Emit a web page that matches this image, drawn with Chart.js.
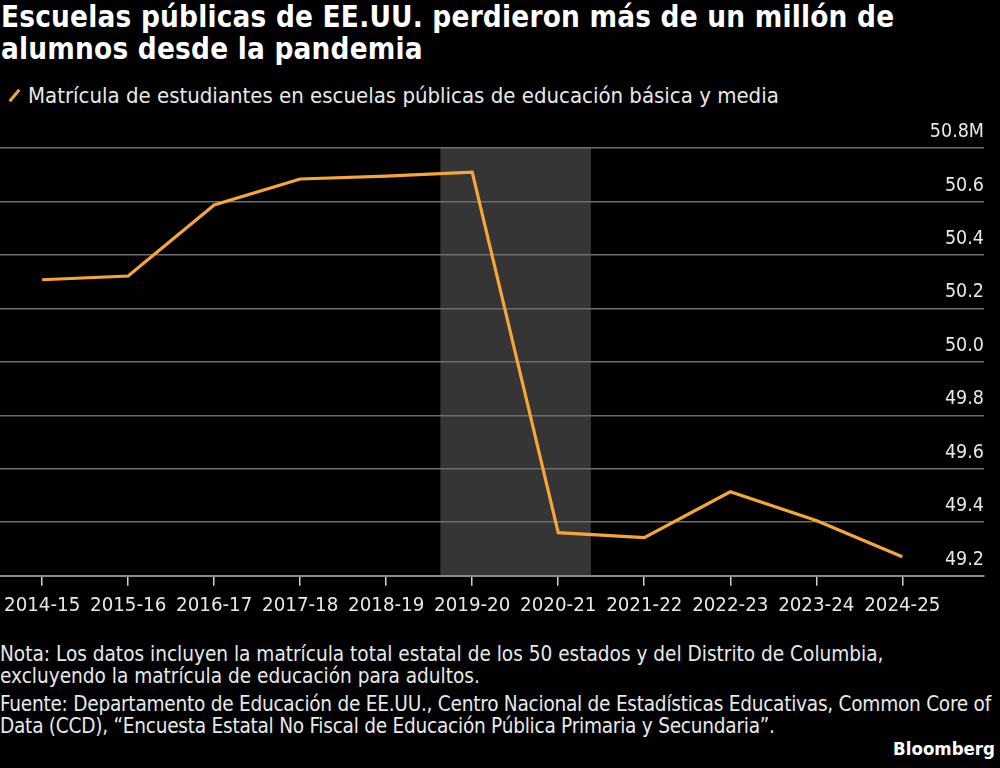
<!DOCTYPE html>
<html>
<head>
<meta charset="utf-8">
<script src="https://cdn.jsdelivr.net/npm/chart.js@4.4.1/dist/chart.umd.min.js"></script>
<style>
  html, body { margin: 0; padding: 0; background: #000; }
  body { width: 1000px; height: 768px; position: relative; overflow: hidden; font-family: "DejaVu Sans Condensed", "DejaVu Sans", sans-serif; color: #fff; }
  #title { position: absolute; left: 1px; top: 1px; width: 1000px; font-weight: bold; font-size: 29.4px; letter-spacing: 0.2px; line-height: 32px; color: #fff; white-space: nowrap; }
  #legend { position: absolute; left: 0; top: 82px; font-size: 22px; line-height: 28px; color: #e8e8e8; white-space: nowrap; }
  #legend .sw { display: inline-block; width: 3px; height: 15px; background: #f6a637; transform: rotate(40deg); margin: 0 12px 0 13px; vertical-align: 0px; }
  #wrap { position: absolute; left: 0; top: 110px; width: 1000px; height: 516px; }
  #notes { position: absolute; left: 0; top: 643px; width: 1000px; font-size: 20.6px; line-height: 22px; color: #e8e8e8; white-space: nowrap; }
  #notes p { margin: 0 0 6px 0; }
  #notes p.src { letter-spacing: -0.25px; }
  #brand { position: absolute; right: 5px; top: 738px; font-weight: bold; font-size: 18.5px; color: #fff; }
</style>
</head>
<body>
<div id="title">Escuelas públicas de EE.UU. perdieron más de un millón de<br>alumnos desde la pandemia</div>
<div id="legend"><span class="sw"></span>Matrícula de estudiantes en escuelas públicas de educación básica y media</div>
<div id="wrap"><canvas id="c" width="1000" height="516"></canvas></div>
<div id="notes">
<p>Nota: Los datos incluyen la matrícula total estatal de los 50 estados y del Distrito de Columbia,<br>excluyendo la matrícula de educación para adultos.</p>
<p class="src">Fuente: Departamento de Educación de EE.UU., Centro Nacional de Estadísticas Educativas, Common Core of<br>Data (CCD), “Encuesta Estatal No Fiscal de Educación Pública Primaria y Secundaria”.</p>
</div>
<div id="brand">Bloomberg</div>
<script>
const categories = ["2014-15","2015-16","2016-17","2017-18","2018-19","2019-20","2020-21","2021-22","2022-23","2023-24","2024-25"];
const enrollment = [50.307, 50.321, 50.587, 50.684, 50.695, 50.710, 49.361, 49.342, 49.514, 49.406, 49.271];
const yTicks = [49.2, 49.4, 49.6, 49.8, 50.0, 50.2, 50.4, 50.6, 50.8];
const shadeRange = [4.63, 6.38];

const shadePlugin = {
  id: 'shade',
  beforeDraw(chart) {
    const {ctx, chartArea, scales} = chart;
    const x0 = scales.x.getPixelForValue(shadeRange[0]);
    const x1 = scales.x.getPixelForValue(shadeRange[1]);
    ctx.save();
    ctx.fillStyle = '#353535';
    ctx.fillRect(x0, chartArea.top, x1 - x0, chartArea.bottom - chartArea.top);
    ctx.restore();
  }
};

new Chart(document.getElementById('c'), {
  type: 'line',
  data: {
    datasets: [{
      data: enrollment.map((v, i) => ({x: i, y: v})),
      borderColor: '#f6a637',
      borderWidth: 3.2,
      pointRadius: 0,
      tension: 0,
      fill: false
    }]
  },
  options: {
    responsive: false,
    animation: false,
    layout: { padding: { top: 38, right: 16, left: 0, bottom: 0 } },
    plugins: { legend: { display: false }, tooltip: { enabled: false } },
    scales: {
      x: {
        type: 'linear',
        min: -0.49,
        max: 10.95,
        afterBuildTicks(axis) { axis.ticks = categories.map((c, i) => ({value: i})); },
        afterFit(axis) { axis.paddingLeft = 0; axis.paddingRight = 0; },
        ticks: {
          autoSkip: false,
          maxRotation: 0,
          color: '#e8e8e8',
          padding: 8,
          font: { family: 'DejaVu Sans Condensed', size: 20.3 },
          callback: (v) => categories[v] ?? ''
        },
        grid: { drawOnChartArea: false, drawTicks: true, tickLength: 10, color: '#cfcfcf', lineWidth: 1.5 },
        border: { display: true, color: '#8a8a8a', width: 2 }
      },
      y: {
        position: 'right',
        min: 49.2,
        max: 50.8,
        afterBuildTicks(axis) { axis.ticks = yTicks.map(v => ({value: v})); },
        afterFit(axis) { axis.paddingTop = 0; axis.paddingBottom = 0; },
        ticks: {
          mirror: true,
          padding: 0,
          labelOffset: -16,
          color: '#e8e8e8',
          font: { family: 'DejaVu Sans Condensed', size: 19.5 },
          callback: (v) => (Math.abs(v - 50.8) < 1e-6 ? v.toFixed(1) + 'M' : v.toFixed(1))
        },
        grid: { drawTicks: false, color: '#6e6e6e', lineWidth: 1.5 },
        border: { display: false }
      }
    }
  },
  plugins: [shadePlugin]
});
</script>
</body>
</html>
